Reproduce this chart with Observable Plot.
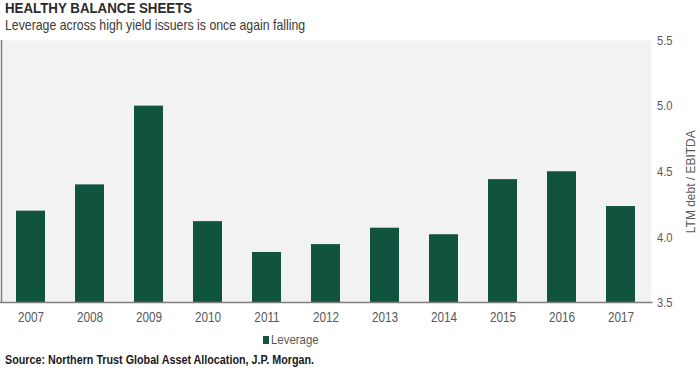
<!DOCTYPE html>
<html>
<head>
<meta charset="utf-8">
<script src="https://cdn.jsdelivr.net/npm/d3@7"></script>
<script src="https://cdn.jsdelivr.net/npm/@observablehq/plot@0.6"></script>
<style>
  html, body { margin: 0; padding: 0; background: #ffffff; }
  #wrap { position: relative; width: 700px; height: 372px; overflow: hidden; font-family: "Liberation Sans", Arial, sans-serif; }
  #title { position: absolute; left: 5px; top: 0px; font-weight: bold; font-size: 14px; color: #2b2b2b; white-space: nowrap; transform: scaleX(0.95); }
  #subtitle { position: absolute; left: 5px; top: 16px; font-size: 15px; color: #3a3a3a; white-space: nowrap; transform: scaleX(0.82); }
  #chart { position: absolute; left: 0; top: 20px; }
  #legend { position: absolute; left: 263px; top: 332px; font-size: 13px; color: #595959; white-space: nowrap; display: flex; align-items: center; }
  #legend .sw { width: 6px; height: 8px; background: #10543f; margin-right: 2px; }
  #legtext { display: inline-block; transform: scaleX(0.88); transform-origin: left center; }
  #source { position: absolute; left: 5px; top: 353px; font-size: 12.5px; color: #1a1a1a; font-weight: bold; white-space: nowrap; transform: scaleX(0.86); }
  #title, #subtitle, #source { transform-origin: left center; }
</style>
</head>
<body>
<div id="wrap">
  <div id="chart"></div>
  <div id="title">HEALTHY BALANCE SHEETS</div>
  <div id="subtitle">Leverage across high yield issuers is once again falling</div>
  <div id="legend"><span class="sw"></span><span id="legtext"></span></div>
  <div id="source">Source: Northern Trust Global Asset Allocation, J.P. Morgan.</div>
</div>
<script>
const years = ["2007","2008","2009","2010","2011","2012","2013","2014","2015","2016","2017"];
const leverage = [4.20, 4.40, 5.00, 4.12, 3.885, 3.945, 4.07, 4.02, 4.44, 4.50, 4.235];
const yTicks = [3.5, 4.0, 4.5, 5.0, 5.5];
const seriesName = "Leverage";
const yLabel = "LTM debt / EBITDA";

const data = years.map((y, i) => ({year: y, value: leverage[i]}));
document.getElementById("legtext").textContent = seriesName;

const axisLines = (index, scales, values, dims) => {
  const g = d3.create("svg:g");
  const x0 = dims.marginLeft + 0.5;
  const y0 = dims.marginTop;
  const y1 = dims.height - dims.marginBottom;
  g.append("line").attr("x1", x0).attr("x2", x0).attr("y1", y0).attr("y2", y1)
    .attr("stroke", "#7f7f7f").attr("stroke-width", 1.5);
  g.append("line").attr("x1", 0).attr("x2", dims.width - dims.marginRight + 2).attr("y1", y1).attr("y2", y1)
    .attr("stroke", "#7f7f7f").attr("stroke-width", 1.5);
  return g.node();
};

const chart = Plot.plot({
  width: 700,
  height: 316,
  marginTop: 20,
  marginBottom: 33.5,
  marginLeft: 1,
  marginRight: 49.5,
  style: { fontFamily: "Liberation Sans, Arial, sans-serif", fontSize: "13px", color: "#595959", background: "transparent", overflow: "visible" },
  x: { domain: years, paddingInner: 0.51, paddingOuter: 0.25, tickSize: 0, tickPadding: 9, label: null },
  y: { domain: [yTicks[0], yTicks[yTicks.length - 1]], ticks: yTicks, tickFormat: d3.format(".1f"), axis: "right", tickSize: 0, tickPadding: 6, label: yLabel, labelAnchor: "center", labelOffset: 44, labelArrow: false },
  marks: [
    Plot.frame({ fill: "#f2f2f2", stroke: null }),
    Plot.barY(data, { x: "year", y1: yTicks[0], y2: "value", fill: "#10543f" }),
    axisLines
  ]
});
document.getElementById("chart").appendChild(chart);

// condense axis texts (narrow-font look) while keeping them as real text
function condense(sel, k, size) {
  chart.querySelectorAll(sel).forEach(t => {
    if (size) t.setAttribute("font-size", size);
    const w = t.getComputedTextLength();
    t.setAttribute("textLength", (w * k).toFixed(2));
    t.setAttribute("lengthAdjust", "spacingAndGlyphs");
  });
}
condense('g[aria-label="x-axis tick label"] text', 0.84, 14);
condense('g[aria-label="y-axis tick label"] text', 0.86, 13);
condense('g[aria-label="y-axis label"] text', 0.92, 13);

// the reference's axis title sits slightly below the plot's centre
const lab = chart.querySelector('g[aria-label="y-axis label"]');
if (lab) {
  const tr = lab.getAttribute("transform") || "";
  lab.setAttribute("transform", ("translate(0,10) " + tr).trim());
}
</script>
</body>
</html>
